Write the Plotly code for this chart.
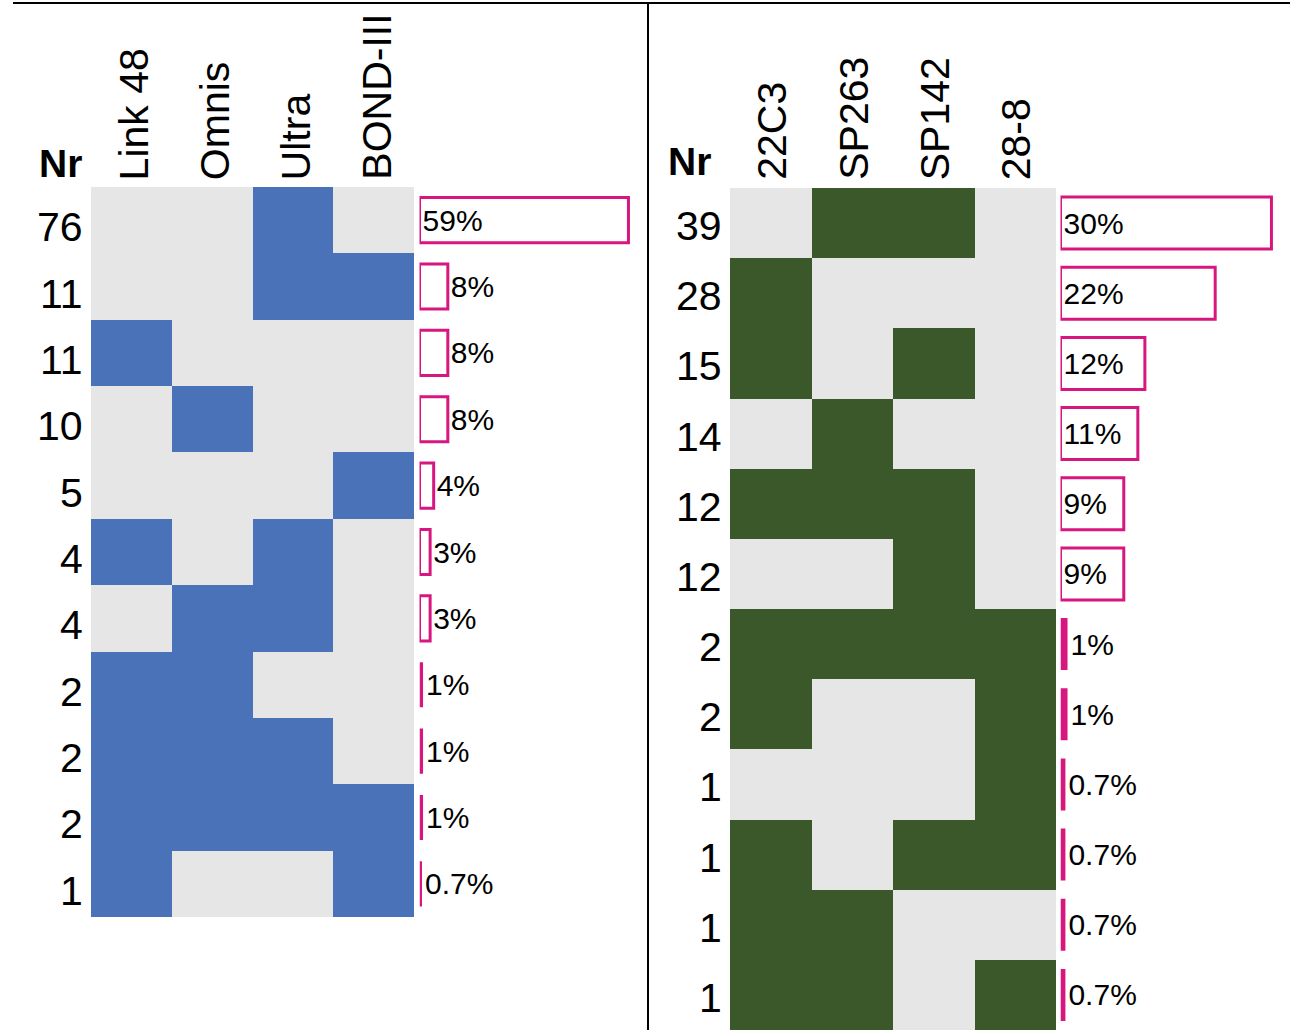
import plotly.graph_objects as go

# ---------------- data ----------------
left_platforms = ["Link 48", "Omnis", "Ultra", "BOND-III"]
left_nr = [76, 11, 11, 10, 5, 4, 4, 2, 2, 2, 1]
left_pct = [59, 8, 8, 8, 4, 3, 3, 1, 1, 1, 0.7]
left_pattern = [
    [0, 0, 1, 0],
    [0, 0, 1, 1],
    [1, 0, 0, 0],
    [0, 1, 0, 0],
    [0, 0, 0, 1],
    [1, 0, 1, 0],
    [0, 1, 1, 0],
    [1, 1, 0, 0],
    [1, 1, 1, 0],
    [1, 1, 1, 1],
    [1, 0, 0, 1],
]

right_clones = ["22C3", "SP263", "SP142", "28-8"]
right_nr = [39, 28, 15, 14, 12, 12, 2, 2, 1, 1, 1, 1]
right_pct = [30, 22, 12, 11, 9, 9, 1, 1, 0.7, 0.7, 0.7, 0.7]
right_pattern = [
    [0, 1, 1, 0],
    [1, 0, 0, 0],
    [1, 0, 1, 0],
    [0, 1, 0, 0],
    [1, 1, 1, 0],
    [0, 0, 1, 0],
    [1, 1, 1, 1],
    [1, 0, 0, 1],
    [0, 0, 0, 1],
    [1, 0, 1, 1],
    [1, 1, 0, 0],
    [1, 1, 0, 1],
]

# ---------------- style ----------------
W, H = 1299, 1030
FONT = "Liberation Sans, Arial, sans-serif"
GREY = "#E7E6E6"
BLUE = "#4A72B8"
GREEN = "#3A5829"
PINK = "#D8167F"


def px(x):
    return x / W


def py(y):
    return 1 - y / H


fig = go.Figure()


def add_panel(names, nr, pct, pattern, color, xh, xb, ya, bar_w, label_shift):
    n = len(nr)
    rows = list(range(n))
    cols = list(range(len(names)))
    fig.add_trace(go.Heatmap(
        z=pattern, x=cols, y=rows,
        colorscale=[[0, GREY], [1, color]], zmin=0, zmax=1,
        showscale=False, hoverinfo="skip",
        xaxis=xh, yaxis=ya,
    ))
    thin = [p <= 1 for p in pct]
    fig.add_trace(go.Bar(
        x=pct, y=rows, orientation="h",
        width=bar_w,
        marker=dict(color=[PINK if t else "white" for t in thin],
                    line=dict(color=PINK, width=[0 if t else 3 for t in thin])),
        text=[f"{p:g}%" for p in pct],
        textposition=["inside" if p >= 9 else "outside" for p in pct],
        insidetextanchor="start",
        textfont=dict(size=30, color="black", family=FONT),
        constraintext="none",
        cliponaxis=False,
        hoverinfo="skip",
        xaxis=xb, yaxis=ya,
    ))
    xref = "x" if xh == "x" else "x" + xh[1:]
    yref = "y" if ya == "y" else "y" + ya[1:]
    # row labels (Nr values)
    for i, v in enumerate(nr):
        fig.add_annotation(
            x=-0.5, y=i, xref=xref, yref=yref, text=str(v),
            xanchor="right", yanchor="middle", xshift=-6, yshift=label_shift,
            showarrow=False, font=dict(size=41, color="black", family=FONT),
        )


add_panel(left_platforms, left_nr, left_pct, left_pattern, BLUE,
          "x", "x2", "y", 0.68, -7)
add_panel(right_clones, right_nr, right_pct, right_pattern, GREEN,
          "x3", "x4", "y2", 0.74, -3)

left_top = py(187)
right_top = py(188)

# column headers
for i, name in enumerate(left_platforms):
    fig.add_annotation(x=i, y=left_top, xref="x", yref="paper", text=name,
                       textangle=-90, xanchor="center", yanchor="bottom",
                       xshift=3, yshift=5, showarrow=False,
                       font=dict(size=41, color="black", family=FONT))
for i, name in enumerate(right_clones):
    fig.add_annotation(x=i, y=right_top, xref="x3", yref="paper", text=name,
                       textangle=-90, xanchor="center", yanchor="bottom",
                       xshift=1, yshift=6, showarrow=False,
                       font=dict(size=41, color="black", family=FONT))

# "Nr" headers
fig.add_annotation(x=-0.5, y=left_top, xref="x", yref="paper", text="<b>Nr</b>",
                   xanchor="right", yanchor="bottom", xshift=-7, yshift=0,
                   showarrow=False, font=dict(size=39, color="black", family=FONT))
fig.add_annotation(x=-0.5, y=right_top, xref="x3", yref="paper", text="<b>Nr</b>",
                   xanchor="right", yanchor="bottom", xshift=-17, yshift=3,
                   showarrow=False, font=dict(size=39, color="black", family=FONT))

hidden = dict(showgrid=False, zeroline=False, showticklabels=False, ticks="",
              showline=False, fixedrange=True)

fig.update_layout(
    width=W, height=H,
    margin=dict(l=0, r=0, t=0, b=0),
    paper_bgcolor="white", plot_bgcolor="rgba(0,0,0,0)",
    showlegend=False,
    uniformtext=dict(minsize=30, mode="show"),
    font=dict(family=FONT, color="black"),
    xaxis=dict(domain=[px(91), px(414)], range=[-0.5, 3.5], anchor="y", **hidden),
    xaxis2=dict(domain=[px(419.5), px(632)], range=[0, 60], anchor="y", **hidden),
    yaxis=dict(domain=[py(917), left_top], range=[len(left_nr) - 0.5, -0.5],
               anchor="x", **hidden),
    xaxis3=dict(domain=[px(730), px(1056)], range=[-0.5, 3.5], anchor="y2", **hidden),
    xaxis4=dict(domain=[px(1060.5), px(1285.5)], range=[0, 32], anchor="y2", **hidden),
    yaxis2=dict(domain=[0, right_top], range=[len(right_nr) - 0.5, -0.5],
                anchor="x3", **hidden),
    shapes=[
        dict(type="line", xref="paper", yref="paper", x0=px(13), x1=px(1290),
             y0=py(3), y1=py(3), line=dict(color="black", width=2)),
        dict(type="line", xref="paper", yref="paper", x0=px(648), x1=px(648),
             y0=0, y1=py(3), line=dict(color="black", width=2)),
    ],
)

fig.write_html("out.html")
